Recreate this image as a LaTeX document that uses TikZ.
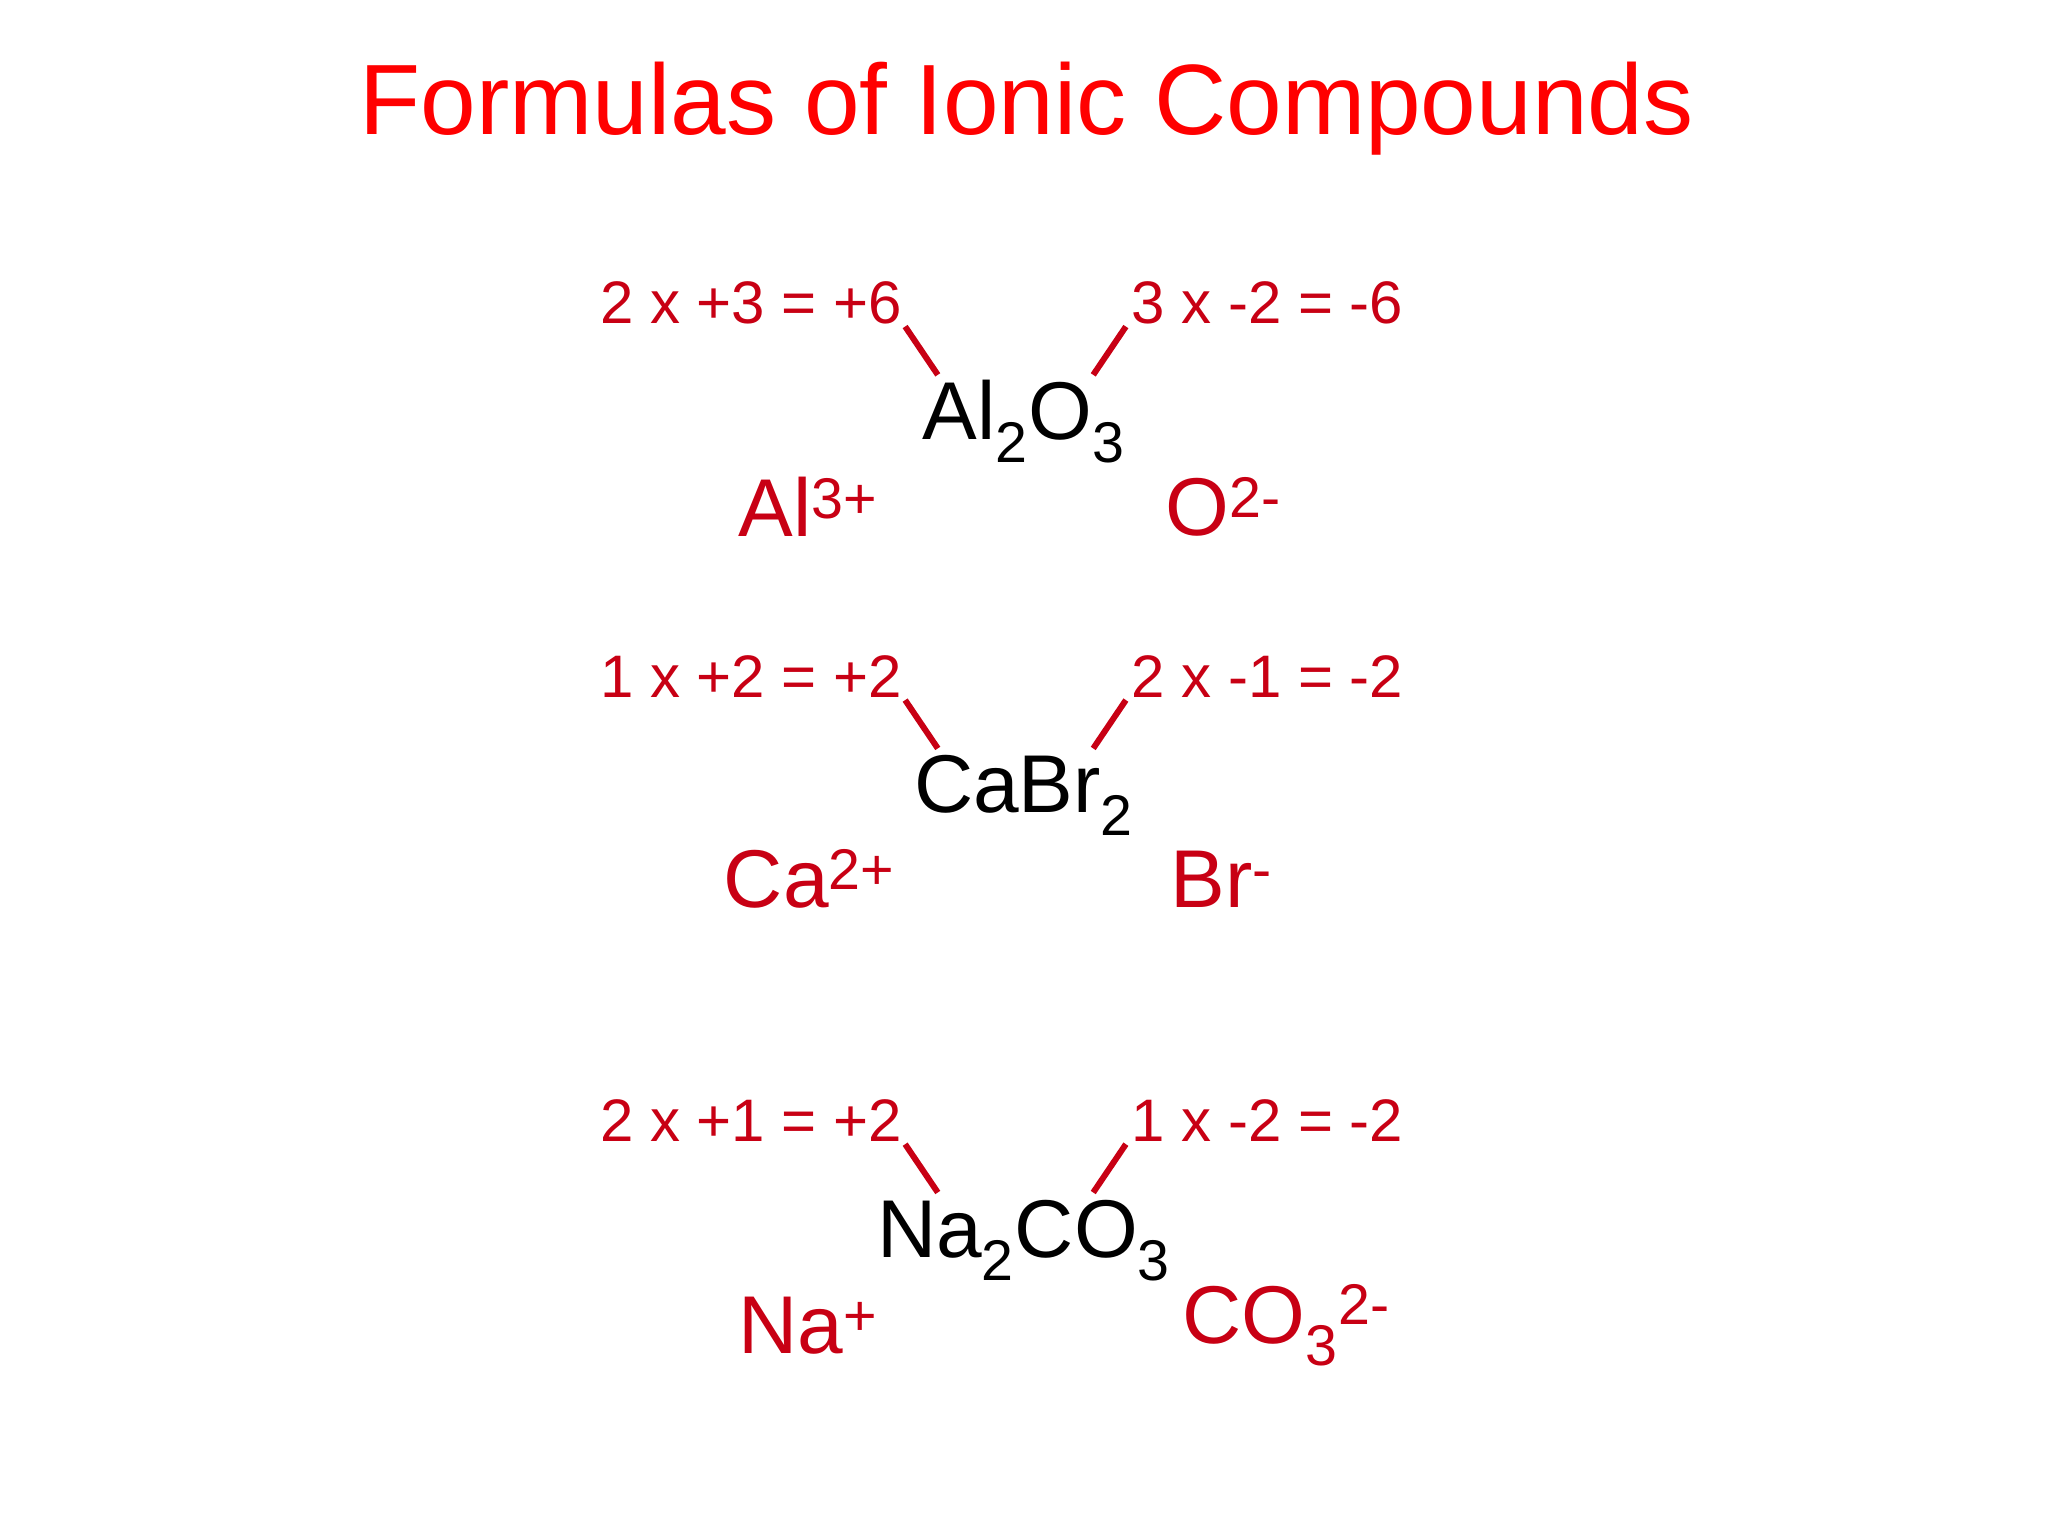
\documentclass[tikz,border=0pt]{standalone}
\usepackage{fontspec}
\setmainfont{Liberation Sans}
\definecolor{dred}{RGB}{200,0,20}
\begin{document}
\begin{tikzpicture}[x=0.653pt,y=-0.653pt,
  ttl/.style={text=red,font=\fontsize{50}{56}\selectfont},
  calc/.style={text=dred,font=\fontsize{30}{34}\selectfont,inner sep=0},
  frm/.style={text=black,font=\fontsize{41}{46}\selectfont,inner sep=0},
  ion/.style={text=dred,font=\fontsize{41}{46}\selectfont,inner sep=0},
  tick/.style={dred,line width=3pt}]
\fill[white] (0,0) rectangle (1568,1176);
\useasboundingbox (0,0) rectangle (1568,1176);
\node[ttl] (title) at (786,83) {Formulas of Ionic Compounds};
% row 1
\node[calc,anchor=east] (c1l) at (691,232) {2 x +3 = +6};
\node[calc,anchor=west] (c1r) at (866,232) {3 x -2 = -6};
\node[frm] (f1) at (784,323) {Al\textsubscript{2}O\textsubscript{3}};
\node[ion,anchor=west] (i1l) at (565,388) {Al\textsuperscript{3+}};
\node[ion,anchor=west] (i1r) at (892,388) {O\textsuperscript{2-}};
\coordinate (a1) at (693,250); \coordinate (b1) at (718,287);
\coordinate (a2) at (862,250); \coordinate (b2) at (837,287);
\draw[tick] (a1) -- (b1); \draw[tick] (a2) -- (b2);
% row 2
\node[calc,anchor=east] (c2l) at (691,518) {1 x +2 = +2};
\node[calc,anchor=west] (c2r) at (866,518) {2 x -1 = -2};
\node[frm] (f2) at (784,609) {CaBr\textsubscript{2}};
\node[ion,anchor=west] (i2l) at (554,673) {Ca\textsuperscript{2+}};
\node[ion,anchor=west] (i2r) at (896,673) {Br\textsuperscript{-}};
\coordinate (a3) at (693,536); \coordinate (b3) at (718,573);
\coordinate (a4) at (862,536); \coordinate (b4) at (837,573);
\draw[tick] (a3) -- (b3); \draw[tick] (a4) -- (b4);
% row 3
\node[calc,anchor=east] (c3l) at (691,858) {2 x +1 = +2};
\node[calc,anchor=west] (c3r) at (866,858) {1 x -2 = -2};
\node[frm] (f3) at (784,950) {Na\textsubscript{2}CO\textsubscript{3}};
\node[ion,anchor=west] (i3l) at (565,1015) {Na\textsuperscript{+}};
\node[ion,anchor=west] (i3r) at (905,1015) {CO\textsubscript{3}\textsuperscript{2-}};
\coordinate (a5) at (693,876); \coordinate (b5) at (718,913);
\coordinate (a6) at (862,876); \coordinate (b6) at (837,913);
\draw[tick] (a5) -- (b5); \draw[tick] (a6) -- (b6);
\end{tikzpicture}
\end{document}
